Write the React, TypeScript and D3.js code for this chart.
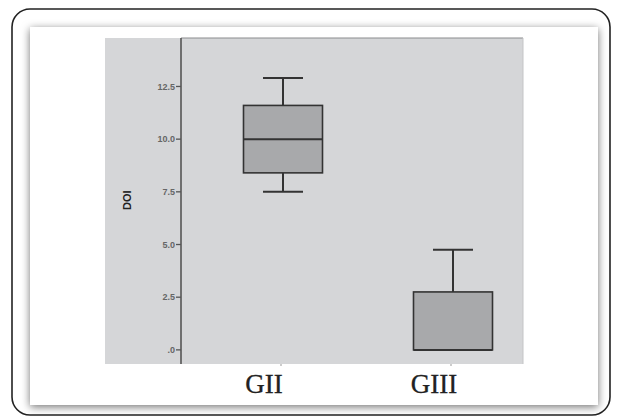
import React from "react";
import { scaleLinear, scalePoint } from "d3";

// box plot stats
const groups = ["GII", "GIII"];
const mins = [7.5, 0];
const q1s = [8.4, 0];
const medians = [10.0, 0];
const q3s = [11.6, 2.75];
const maxs = [12.9, 4.75];
const yTicks = [0, 2.5, 5, 7.5, 10, 12.5];
const yTickLabels = [".0", "2.5", "5.0", "7.5", "10.0", "12.5"];

const W = 618;
const H = 420;
// plot area
const left = 181;
const right = 523;
const top = 38;
const bottom = 364;

function App() {
  const y = scaleLinear().domain([-0.67, 14.8]).range([bottom, top]);
  const x = scalePoint<string>()
    .domain(groups)
    .range([left + 102, right - 70]);

  const boxW = 79;
  const capW = 40;
  const ink = "#333";

  return (
    <svg
      width={W}
      height={H}
      style={{ position: "absolute", left: 0, top: 0, background: "#fff" }}
    >
      <defs>
        <filter id="shadow" x="-10%" y="-10%" width="120%" height="120%">
          <feDropShadow dx="0" dy="2" stdDeviation="4" floodColor="#000" floodOpacity="0.55" />
        </filter>
      </defs>

      {/* outer frame */}
      <rect x={12} y={9} width={598} height={406} rx={18} fill="#fff" stroke="#222" strokeWidth={1.6} />
      {/* white panel with shadow */}
      <rect x={30} y={27} width={568} height={378} fill="#fff" filter="url(#shadow)" />

      {/* gray chart background */}
      <rect x={105} y={top} width={right - 105} height={bottom - top} fill="#d5d6d8" />
      <line x1={left} x2={right} y1={top} y2={top} stroke="#8a8b8d" strokeWidth={1} />
      <line x1={right} x2={right} y1={top} y2={bottom} stroke="#c4c5c7" strokeWidth={1} />

      {/* y axis */}
      <line x1={left} x2={left} y1={top} y2={bottom} stroke="#555" strokeWidth={1.6} />
      {yTicks.map((t, i) => (
        <g key={t} transform={`translate(0,${y(t)})`}>
          <line x1={left - 5} x2={left} stroke="#555" strokeWidth={1.3} />
          <text
            x={left - 6}
            dy="0.34em"
            textAnchor="end"
            fontFamily="Arial, 'Liberation Sans', sans-serif"
            fontSize={9}
            fontWeight="bold"
            fill="#666"
          >
            {yTickLabels[i]}
          </text>
        </g>
      ))}
      <text
        transform={`translate(131,${y(7.1)}) rotate(-90)`}
        textAnchor="middle"
        fontFamily="Arial, 'Liberation Sans', sans-serif"
        fontSize={11}
        fontWeight="bold"
        fill="#222"
      >
        DOI
      </text>

      {/* x ticks */}
      {groups.map((g) => (
        <line key={g} x1={x(g)! - 2} x2={x(g)! - 2} y1={bottom} y2={bottom + 2} stroke="#999" />
      ))}

      {/* boxes */}
      {groups.map((g, i) => {
        const cx = x(g)!;
        return (
          <g key={g}>
            {maxs[i] > q3s[i] && (
              <>
                <line x1={cx} x2={cx} y1={y(q3s[i])} y2={y(maxs[i])} stroke={ink} strokeWidth={2} />
                <line x1={cx - capW / 2} x2={cx + capW / 2} y1={y(maxs[i])} y2={y(maxs[i])} stroke={ink} strokeWidth={2} />
              </>
            )}
            {mins[i] < q1s[i] && (
              <>
                <line x1={cx} x2={cx} y1={y(q1s[i])} y2={y(mins[i])} stroke={ink} strokeWidth={2} />
                <line x1={cx - capW / 2} x2={cx + capW / 2} y1={y(mins[i])} y2={y(mins[i])} stroke={ink} strokeWidth={2} />
              </>
            )}
            <rect
              x={cx - boxW / 2}
              y={y(q3s[i])}
              width={boxW}
              height={y(q1s[i]) - y(q3s[i])}
              fill="#a8a9ab"
              stroke={ink}
              strokeWidth={1.6}
            />
            <line
              x1={cx - boxW / 2}
              x2={cx + boxW / 2}
              y1={y(medians[i])}
              y2={y(medians[i])}
              stroke={ink}
              strokeWidth={2}
            />
          </g>
        );
      })}

      {/* category labels */}
      {groups.map((g) => (
        <text
          key={g}
          x={x(g)! - 19}
          y={393}
          textAnchor="middle"
          fontFamily="'Liberation Serif', 'Times New Roman', serif"
          fontSize={27}
          fill="#222"
          stroke="#222"
          strokeWidth={0.3}
        >
          {g}
        </text>
      ))}
    </svg>
  );
}

export default App;
